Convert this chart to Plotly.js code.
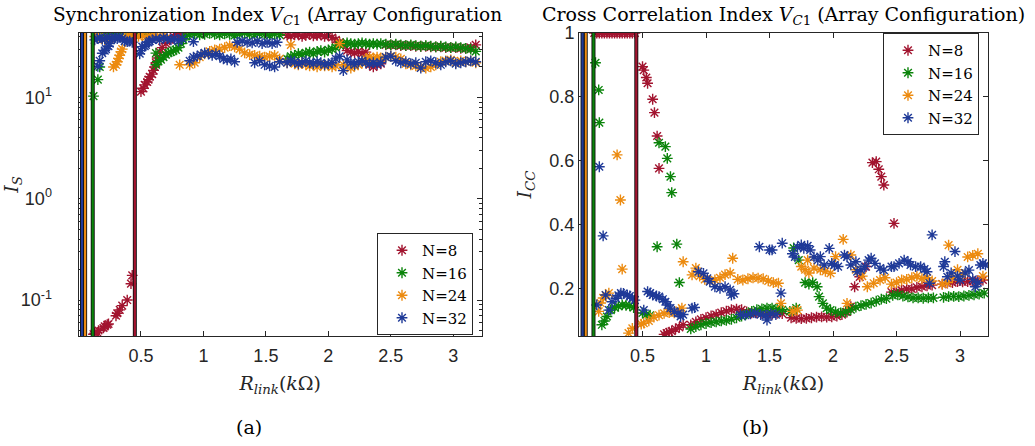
<!DOCTYPE html>
<html>
<head>
<meta charset="utf-8">
<script src="https://cdn.plot.ly/plotly-3.0.1.min.js"></script>
<style>
  html, body { margin: 0; padding: 0; background: #fff; }
  #chart { width: 1035px; height: 446px; }
</style>
</head>
<body>
<div id="chart"></div>
<script>
// ---------- data ----------
const seriesNames = ['N=8', 'N=16', 'N=24', 'N=32'];

// coupling resistance (kOhm) at which each array size switches regime
const boundaryX = [0.451, 0.114, 0.053, 0.028];

// shared R_link sweeps of the synchronization runs
const syncSweepC = [0.89,0.93,0.97,1.01,1.05,1.09,1.13,1.17,1.21,1.25,1.29,1.33,1.37,1.41,1.45,1.49,1.53,1.57,1.61];
const syncSweepD = [1.67,1.70,1.73,1.76,1.79,1.82,1.85,1.88,1.91,1.94,1.97,2.00,2.03,2.06,2.09,2.12,2.15,2.18,2.21,2.24,2.27,2.30,2.33,2.36,2.39,2.42];
const syncSweepE = [2.46,2.50,2.54,2.58,2.62,2.66,2.70,2.74,2.78,2.82,2.86,2.90,2.94,2.98,3.02,3.06,3.10,3.14,3.18];

// (a) synchronization index I_S
const sync8X = [0.12,0.13,0.15,0.16,0.20,0.21,0.23,0.24,0.30,0.31,0.33,0.35,0.39,0.42,0.43,
  0.50,0.52,0.53,0.55,0.56,0.57,0.59,0.60,0.61,0.62,0.63,0.65,0.67,0.70,0.73,0.76,0.79,0.82,0.85]
  .concat(syncSweepC, syncSweepD, syncSweepE);
const sync8Y = [0.046,0.047,0.048,0.050,0.053,0.055,0.057,0.058,0.070,0.074,0.080,0.088,0.100,0.145,0.175,
  11.4,12.3,13.3,14.2,15.0,16.0,17.0,18.5,20.0,22.0,24.5,28,31,34,37,40,41.5,42.5,44,
  46,47,46,48,47,46,47,48,46,47,46,47,48,47,46,47,46,47,46,
  41,40.5,41.5,42,40,41,42,40.5,41,41.5,40,41,39,37,35,33,29,28,27.5,28.5,27,28,21,20,21,21.5,
  33,33,33,32.5,32.5,32.5,32,32,32,31.5,31.5,31.5,31,31,31,30.5,30.5,31,33];

const sync16X = [0.12,0.155,0.17,
  0.20,0.23,0.26,0.29,0.32,0.35,0.38,0.41,0.44,
  0.47,0.50,0.53,0.56,0.59,
  0.62,0.62,0.64,0.66,0.68,0.70,0.72,0.74,0.76,0.78,0.80,0.82,0.84,0.86]
  .concat(syncSweepC, syncSweepD, syncSweepE);
const sync16Y = [10.3,15.0,20.0,
  41,43,44,44,45,44,45,44,43,
  44,45,44,45,44,
  27.4,21,22.7,23.6,25,26.4,27.5,28.1,28.9,29.5,31,34,37,40,
  42,42.5,41.5,42,43,42,41.5,42.5,42,41,42,43,42,41.5,42.5,42,41,42,41.5,
  24,25.5,26,27,26.5,27.5,28,27,28.5,29,28,29.5,30,31,33,34,34.5,34,33.5,34,34.5,34,33.5,34,33.5,34,
  33.5,33,33.5,33,32.5,33,32.5,32,32.5,32,31.5,32,31.5,31,31.5,31,30.5,30,28.5];

const sync24X = [0.13,0.15,0.17,0.19,0.21,0.23,0.25,
  0.28,0.30,0.31,0.32,0.33,0.34,0.35,
  0.37,0.39,0.41,0.43,
  0.48,0.51,0.54,0.57,0.60,0.63,0.66,0.69,
  0.81]
  .concat(syncSweepC, syncSweepD, syncSweepE);
const sync24Y = [40,41,39,38,37,39,38,
  20,21,22.5,24.3,26,28.3,30,
  39,40,41,40,
  40,41,39.5,40.5,41,40,39.5,41,
  21,
  21,22,25,27,28.5,29.5,30,31,32.5,31.5,30,27.5,26.5,26,25.5,25,25.5,26,24,
  22,33,21.5,21,22,21,20.5,21,20,21,20.5,21,20,20.5,34,21,20,19.5,20.5,21,22,24,25,24.5,25,24.5,
  25,25.5,25,24,21.5,21,20.5,20,19.5,20,21,22.5,23,23.5,22,23,22.5,23,22];

const sync32X = [0.13,0.15,0.17,0.19,0.21,0.23,0.25,0.27,0.29,0.31,0.33,0.35,0.37,0.39,0.41,0.43,
  0.155,0.17,0.19,0.21,0.22,0.24,0.25,
  0.49,0.50,0.51,0.53,0.54,0.56,0.57,0.59,
  0.62,0.65,0.68,0.71,0.74,0.77,0.80,0.83,
  0.89,0.92,0.92,0.95,0.98,1.01,1.04,1.07,1.10,1.13,1.16,1.19,1.22,1.25,
  1.27,1.31,1.35,1.39,1.43,1.47,1.51,1.55,1.59,
  1.41,1.45,1.49,1.53,1.57,1.61]
  .concat(syncSweepD, syncSweepE);
const sync32Y = [37,38,39,37.5,38,39,38.5,38,39,38,39.5,38,36,35.5,36,35,
  20.3,23,27.3,29,30,32,34,
  27,29,31.7,32,33,35,36,37,
  38,37,39,38,37,38.5,36,38,
  23,35.5,25,25.5,26.5,27.5,27,26,27,25.5,24,23.5,24,22.5,
  35,36,35,34.5,36,34,35,34,35,
  22,23,21,20.5,20,22.5,
  22,23,22.5,21.5,22,23,22,21.5,22.5,22,21,21.5,22,24,25.5,18.4,23.5,22,21,22.5,23,22,21.5,22,21.5,22,
  25,25.5,23,22,22.5,21.5,22,19.5,22.5,23,22,21,22.5,23,21.5,22,22.5,23,22.5];

// (b) cross correlation index I_CC
const cross8X = [0.12,0.14,0.16,0.18,0.20,0.22,0.24,0.26,0.28,0.30,0.32,0.34,0.36,0.38,0.40,0.42,0.44,
  0.50,0.51,0.53,0.54,0.58,0.594,0.615,0.63,
  0.67,0.69,0.71,0.73,0.76,0.79,0.82,
  0.88,0.92,0.96,1.00,1.04,1.08,1.12,1.16,1.20,1.24,1.28,1.32,1.36,1.40,1.44,1.48,1.52,1.56,1.60,
  1.67,1.71,1.75,1.79,1.83,1.87,1.91,1.95,1.99,2.03,2.07,2.11,2.14,2.17,2.21,2.26,
  2.31,2.34,2.36,2.38,2.40,2.48,
  2.46,2.50,2.54,2.58,2.62,2.66,2.70,2.74,2.78,2.86,2.90,2.94,2.98,3.02,3.06,3.10,3.14,3.18];
const cross8Y = [1,1,1,1,1,1,1,1,1,1,1,1,1,1,1,1,1,
  0.895,0.884,0.861,0.843,0.793,0.751,0.678,0.577,
  0.058,0.062,0.065,0.068,0.075,0.080,0.088,
  0.088,0.097,0.105,0.110,0.116,0.120,0.126,0.131,0.135,0.137,0.135,0.128,0.125,0.125,0.124,0.122,0.121,0.124,0.123,
  0.110,0.108,0.107,0.108,0.110,0.112,0.113,0.112,0.113,0.115,0.120,0.128,0.145,0.207,0.238,0.270,
  0.595,0.598,0.574,0.551,0.525,0.405,
  0.190,0.192,0.196,0.200,0.200,0.205,0.207,0.210,0.212,0.215,0.218,0.220,0.223,0.222,0.223,0.224,0.226,0.228];

const cross16X = [0.13,0.155,0.16,
  0.18,0.20,0.22,0.25,0.28,0.31,0.34,0.37,0.40,0.43,
  0.50,0.53,0.56,
  0.615,0.63,0.68,0.695,0.72,0.73,0.77,0.79,
  0.88,0.92,0.96,1.00,1.04,1.08,1.12,1.16,1.20,1.24,1.28,1.32,1.36,1.40,1.44,1.48,1.52,1.56,1.60,
  1.66,1.69,1.71,1.73,1.78,1.81,1.84,1.875,1.89,1.92,1.95,1.98,2.02,2.06,2.10,2.14,2.18,2.22,2.26,2.30,2.34,2.38,2.42,
  2.47,2.51,2.55,2.59,2.63,2.67,2.71,2.75,2.79,2.87,2.91,2.95,2.99,3.03,3.07,3.11,3.15,3.19];
const cross16Y = [0.907,0.822,0.720,
  0.088,0.100,0.114,0.134,0.142,0.146,0.150,0.149,0.147,0.142,
  0.125,0.120,0.118,
  0.332,0.657,0.645,0.608,0.551,0.501,0.340,0.220,
  0.075,0.082,0.088,0.092,0.095,0.097,0.100,0.102,0.105,0.110,0.115,0.122,0.130,0.135,0.138,0.140,0.140,0.138,0.135,
  0.130,0.328,0.140,0.290,0.220,0.215,0.220,0.207,0.176,0.155,0.140,0.134,0.128,0.125,0.128,0.135,0.143,0.148,0.152,0.156,0.162,0.168,0.170,
  0.180,0.182,0.178,0.175,0.172,0.172,0.171,0.172,0.172,0.174,0.176,0.177,0.176,0.178,0.180,0.182,0.184,0.187];

const cross24X = [0.155,0.17,0.19,0.21,0.235,
  0.30,0.326,0.34,
  0.39,0.42,
  0.49,0.51,0.55,0.59,0.63,0.67,0.71,0.75,0.79,0.81,0.82,
  0.89,0.92,0.95,0.99,1.03,1.07,1.11,1.15,1.19,1.21,1.25,1.29,1.33,1.37,1.41,1.45,1.49,1.53,1.57,1.59,
  1.68,1.72,1.75,1.78,1.80,1.81,1.85,1.90,1.94,1.98,2.02,2.08,2.11,2.14,2.18,2.23,2.27,2.32,2.37,2.41,
  2.46,2.50,2.54,2.58,2.62,2.66,2.70,2.74,2.78,2.86,2.90,2.91,2.94,2.98,3.02,3.06,3.10,3.14,3.18];
const cross24Y = [0.130,0.156,0.172,0.181,0.187,
  0.619,0.478,0.262,
  0.062,0.077,
  0.090,0.093,0.100,0.112,0.118,0.124,0.126,0.125,0.133,0.140,0.285,
  0.244,0.265,0.240,0.230,0.225,0.228,0.235,0.245,0.250,0.296,0.230,0.228,0.232,0.235,0.234,0.232,0.225,0.220,0.218,0.155,
  0.130,0.134,0.270,0.260,0.290,0.250,0.265,0.260,0.255,0.249,0.301,0.355,0.155,0.306,0.260,0.240,0.207,0.218,0.228,0.235,
  0.215,0.220,0.228,0.230,0.235,0.240,0.232,0.235,0.225,0.215,0.220,0.337,0.235,0.260,0.245,0.300,0.305,0.310,0.240];

const cross32X = [0.14,0.16,0.19,0.21,0.235,0.26,0.29,0.31,0.33,0.35,0.38,0.40,0.42,0.44,
  0.51,0.54,0.56,0.58,0.61,0.63,0.66,0.68,0.70,0.72,0.75,0.78,0.80,0.82,
  0.89,0.91,
  0.94,0.98,1.01,1.03,1.07,1.11,1.15,1.19,1.20,1.22,
  1.27,1.31,1.35,1.39,1.43,1.47,1.48,1.51,1.55,1.59,
  1.42,1.50,1.52,1.60,
  1.68,1.70,1.72,1.75,1.77,1.80,1.82,1.85,1.88,1.90,1.93,1.97,1.99,2.01,2.04,2.09,2.11,2.14,2.18,2.19,2.22,2.25,2.28,2.30,2.33,2.37,2.40,
  2.46,2.48,2.52,2.56,2.59,2.61,2.65,2.69,2.72,2.74,2.76,2.78,2.87,2.88,2.90,2.93,2.96,2.98,3.00,3.04,3.07,3.10,3.12,3.14,3.16,3.18,3.20];
const cross32Y = [0.150,0.582,0.366,0.181,0.134,0.160,0.171,0.180,0.187,0.186,0.181,0.178,0.171,0.165,
  0.134,0.192,0.187,0.181,0.178,0.176,0.168,0.160,0.150,0.140,0.130,0.124,0.114,0.120,
  0.140,0.142,
  0.254,0.249,0.233,0.223,0.207,0.202,0.207,0.197,0.181,0.185,
  0.120,0.118,0.122,0.125,0.120,0.118,0.103,0.122,0.120,0.187,
  0.332,0.322,0.322,0.343,
  0.310,0.300,0.330,0.338,0.327,0.335,0.322,0.300,0.290,0.301,0.275,0.327,0.280,0.275,0.270,0.306,0.300,0.275,0.285,0.254,0.260,0.270,0.290,0.296,0.280,0.265,0.259,
  0.270,0.270,0.280,0.290,0.285,0.275,0.270,0.270,0.262,0.254,0.218,0.369,0.270,0.285,0.238,0.250,0.317,0.240,0.228,0.250,0.259,0.230,0.207,0.220,0.275,0.280,0.275];

// ---------- styling ----------
const seriesColors = ['#A2142F', '#0B840B', '#EC8B10', '#1F3A98'];
const serif = 'DejaVu Serif, Liberation Serif, serif';
const sans = 'Liberation Sans, Arial, Helvetica, sans-serif';
const axisInk = '#262626';

const syncX = [sync8X, sync16X, sync24X, sync32X];
const syncY = [sync8Y, sync16Y, sync24Y, sync32Y];
const crossX = [cross8X, cross16X, cross24X, cross32X];
const crossY = [cross8Y, cross16Y, cross24Y, cross32Y];

function starTrace(x, y, i, xa, ya, legendId) {
  return {
    type: 'scatter', mode: 'markers', x: x, y: y,
    name: seriesNames[i], xaxis: xa, yaxis: ya, legend: legendId,
    marker: { symbol: 'asterisk-open', size: 9, color: seriesColors[i],
              line: { color: seriesColors[i], width: 1.4 } },
    hoverinfo: 'skip'
  };
}

const traces = [];
seriesNames.forEach((_, i) => traces.push(starTrace(syncX[i], syncY[i], i, 'x', 'y', 'legend')));
seriesNames.forEach((_, i) => traces.push(starTrace(crossX[i], crossY[i], i, 'x2', 'y2', 'legend2')));

// regime boundaries: outlined vertical lines spanning each panel
const shapes = [];
[['x', 'y domain'], ['x2', 'y2 domain']].forEach(([xr, yr]) => {
  boundaryX.forEach((bx, i) => {
    shapes.push({ type: 'line', xref: xr, yref: yr, x0: bx, x1: bx, y0: 0, y1: 1,
                  layer: 'above', line: { color: '#111', width: 4 } });
    shapes.push({ type: 'line', xref: xr, yref: yr, x0: bx, x1: bx, y0: 0, y1: 1,
                  layer: 'above', line: { color: seriesColors[i], width: 2.2 } });
  });
});

const axisBase = {
  showline: true, mirror: 'ticks', linecolor: axisInk, linewidth: 1,
  ticks: 'inside', ticklen: 5, tickwidth: 1, tickcolor: axisInk,
  showgrid: false, zeroline: false,
  tickfont: { family: sans, size: 18, color: axisInk }
};
const titleFont = { family: serif, size: 19, color: axisInk };
const xTitle = '<i>R</i><sub><i>link</i></sub>(<i>k</i>Ω)';
const xTicks = { tickmode: 'array', tickvals: [0.5, 1, 1.5, 2, 2.5, 3],
                 ticktext: ['0.5', '1', '1.5', '2', '2.5', '3'], ticklabelstandoff: 3 };
const yDomain = [1 - 336 / 446, 1 - 33 / 446];
const legendBase = {
  xanchor: 'left', yanchor: 'top',
  bgcolor: '#fff', bordercolor: axisInk, borderwidth: 1, indentation: 4,
  font: { family: serif, size: 15, color: '#000' }
};

const layout = {
  width: 1035, height: 446,
  margin: { l: 0, r: 0, t: 0, b: 0 },
  paper_bgcolor: '#fff', plot_bgcolor: '#fff',
  showlegend: true, hovermode: false,
  xaxis: Object.assign({}, axisBase, xTicks, {
    domain: [78.5 / 1035, 482 / 1035], range: [0, 3.23], anchor: 'y',
    title: { text: xTitle, font: titleFont, standoff: 12 }
  }),
  yaxis: Object.assign({}, axisBase, {
    domain: yDomain, type: 'log', range: [-1.355, 1.636], anchor: 'x',
    tickmode: 'array', tickvals: [0.1, 1, 10],
    ticktext: ['10<sup>-1</sup>', '10<sup>0</sup>', '10<sup>1</sup>'],
    ticklabelstandoff: 22,
    minor: { tickmode: 'array',
             tickvals: [0.05,0.06,0.07,0.08,0.09,0.2,0.3,0.4,0.5,0.6,0.7,0.8,0.9,2,3,4,5,6,7,8,9,20,30,40],
             ticks: 'inside', ticklen: 3, tickcolor: axisInk },
    title: { text: '<i>I</i><sub><i>S</i></sub>', font: titleFont, standoff: 0 }
  }),
  xaxis2: Object.assign({}, axisBase, xTicks, {
    domain: [579 / 1035, 988 / 1035], range: [0, 3.22], anchor: 'y2',
    title: { text: xTitle, font: titleFont, standoff: 12 }
  }),
  yaxis2: Object.assign({}, axisBase, {
    domain: yDomain, range: [0.053, 1.0], anchor: 'x2',
    tickmode: 'array', tickvals: [0.2, 0.4, 0.6, 0.8, 1], ticktext: ['0.2', '0.4', '0.6', '0.8', '1'],
    title: { text: '<i>I</i><sub><i>CC</i></sub>', font: titleFont, standoff: 12 }
  }),
  legend: Object.assign({}, legendBase, { x: 377 / 1035, y: 1 - 233 / 446 }),
  legend2: Object.assign({}, legendBase, { x: 883 / 1035, y: 1 - 33 / 446 }),
  shapes: shapes,
  annotations: [
    { text: 'Synchronization Index <i>V</i><sub><i>C</i>1</sub> (Array Configuration',
      xref: 'paper', yref: 'paper', x: 277 / 1035, y: 1 - 16 / 446, xanchor: 'center', yanchor: 'middle',
      showarrow: false, font: { family: serif, size: 18.5, color: '#000' } },
    { text: 'Cross Correlation Index <i>V</i><sub><i>C</i>1</sub> (Array Configuration)',
      xref: 'paper', yref: 'paper', x: 783 / 1035, y: 1 - 16 / 446, xanchor: 'center', yanchor: 'middle',
      showarrow: false, font: { family: serif, size: 19, color: '#000' } },
    { text: '(a)', xref: 'paper', yref: 'paper', x: 249 / 1035, y: 1 - 427 / 446,
      xanchor: 'center', yanchor: 'middle', showarrow: false,
      font: { family: serif, size: 19, color: '#000' } },
    { text: '(b)', xref: 'paper', yref: 'paper', x: 755 / 1035, y: 1 - 427 / 446,
      xanchor: 'center', yanchor: 'middle', showarrow: false,
      font: { family: serif, size: 19, color: '#000' } }
  ]
};

Plotly.newPlot('chart', traces, layout, { displayModeBar: false, staticPlot: true });
</script>
</body>
</html>
